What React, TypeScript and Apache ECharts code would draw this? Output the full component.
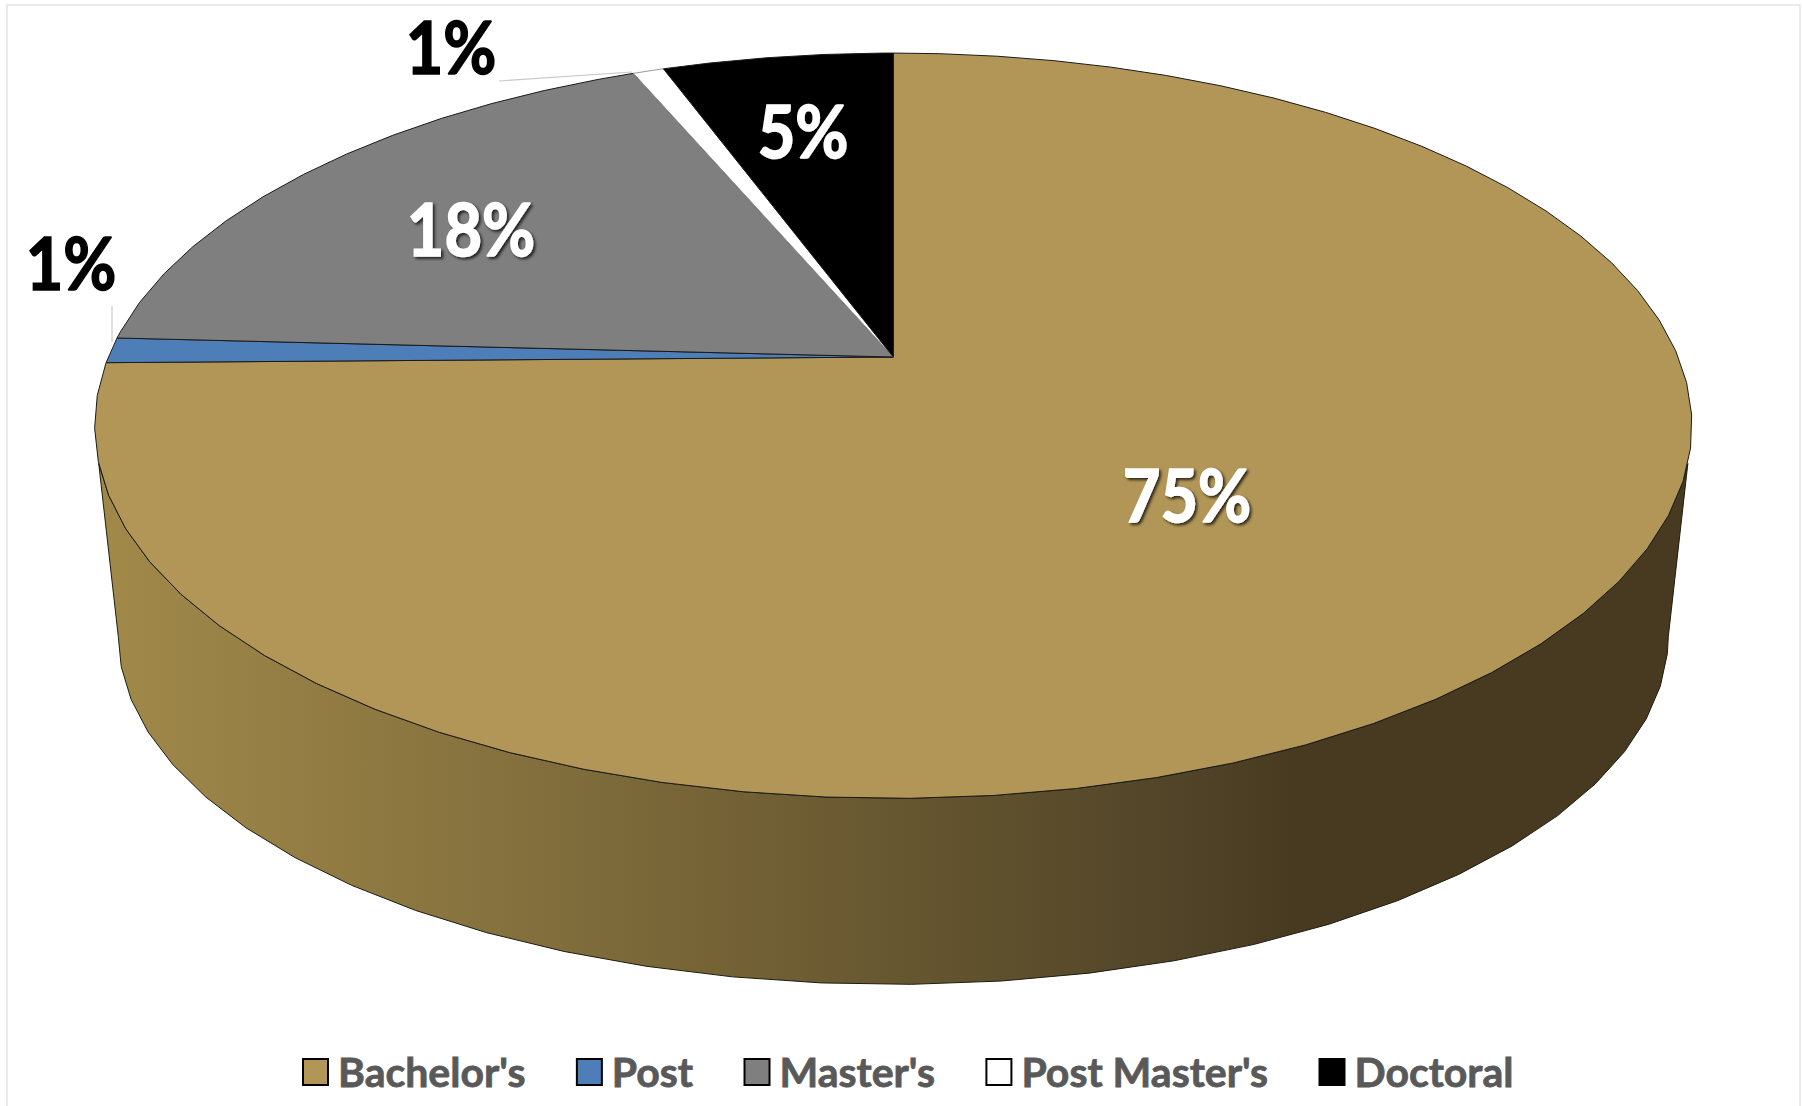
import React, { useEffect, useRef } from "react";
import * as echarts from "echarts";

const CATEGORIES = ["Bachelor's", "Post", "Master's", "Post Master's", "Doctoral"];
const VALUES = [74.75, 1.1, 17.82, 0.75, 5.58];
const PERCENT_LABELS = ["75%", "1%", "18%", "1%", "5%"];
const COLORS = ["#B19657", "#4D7EB8", "#7F7F7F", "#FFFFFF", "#000000"];

// Perspective model of the pie's top rim and bottom rim
const TOP = { cx: 893.3, y0: 357, A: 785, B: 360, k: 0.1844 };
const BOTTOM = { cx: 893.3, y0: 539, A: 744, B: 320.7, k: 0.28 };
const WALL_FROM = 106.3;
const WALL_TO = 253.7;
const FACET = 5;
const FACET_PHASE = 1;

// Label layout
const LABEL_POS = [
  [1187, 494],
  [71, 262],
  [471, 228],
  [451, 46],
  [803, 130],
];
const LABEL_FILL = ["#fff", "#000", "#fff", "#000", "#fff"];
const LABEL_SHADOW = [true, false, true, false, true];
const LEADERS: (number[] | null)[] = [null, [112, 306, 112, 342], null, [499, 81, 632, 72], null];

const pt = (deg: number, m: typeof TOP) => {
  const a = (deg * Math.PI) / 180;
  const d = 1 + m.k * Math.cos(a);
  return [m.cx + (m.A * Math.sin(a)) / d, m.y0 - (m.B * Math.cos(a)) / d];
};

const arc = (from: number, to: number, m: typeof TOP) => {
  const out = [pt(from, m)];
  const first = Math.ceil((from + FACET_PHASE) / FACET + 1e-6) * FACET - FACET_PHASE;
  for (let d = first; d < to; d += FACET) out.push(pt(d, m));
  out.push(pt(to, m));
  return out;
};

const starts = VALUES.map((_, i) => VALUES.slice(0, i).reduce((s, v) => s + v, 0));
const total = VALUES.reduce((s, v) => s + v, 0);

const wallFill = () =>
  new echarts.graphic.LinearGradient(
    118,
    0,
    1670,
    0,
    [
      { offset: 0, color: "#A08849" },
      { offset: 0.25, color: "#85713E" },
      { offset: 0.5, color: "#675730" },
      { offset: 0.7, color: "#4F4227" },
      { offset: 0.76, color: "#483A20" },
      { offset: 1, color: "#483A20" },
    ],
    true
  );

const renderSlice = (params: any, api: any) => {
  const i = params.seriesIndex;
  const value = api.value(0);
  const a0 = (starts[i] / total) * 360;
  const a1 = ((starts[i] + value) / total) * 360;
  const children: any[] = [];
  const wa = Math.max(a0, WALL_FROM);
  const wb = Math.min(a1, WALL_TO);
  if (wb > wa) {
    children.push({
      type: "polygon",
      shape: { points: [...arc(wa, wb, TOP), ...arc(wa, wb, BOTTOM).reverse()] },
      style: { fill: wallFill(), stroke: "#1c1c10", lineWidth: 1 },
      silent: true,
    });
  }
  children.push({
    type: "polygon",
    shape: { points: [[TOP.cx, TOP.y0], ...arc(a0, a1, TOP)] },
    style: { fill: COLORS[i], stroke: i === 3 ? "#9a9a9a" : "#1a1a1a", lineWidth: 1 },
    silent: true,
  });
  const lead = LEADERS[i];
  if (lead) {
    children.push({
      type: "line",
      shape: { x1: lead[0], y1: lead[1], x2: lead[2], y2: lead[3] },
      style: { stroke: "#c8c8c8", lineWidth: 1.2 },
      silent: true,
    });
  }
  return { type: "group", children };
};

const renderLabel = (params: any) => {
  const i = params.seriesIndex - CATEGORIES.length;
  const shadow = LABEL_SHADOW[i];
  return {
    type: "text",
    x: LABEL_POS[i][0],
    y: LABEL_POS[i][1],
    scaleX: 0.9,
    silent: true,
    style: {
      text: PERCENT_LABELS[i],
      x: 0,
      y: 0,
      align: "center",
      verticalAlign: "middle",
      fill: LABEL_FILL[i],
      stroke: LABEL_FILL[i],
      lineWidth: 1.6,
      font: 'bold 72px Lato, "Open Sans", sans-serif',
      textShadowColor: shadow ? "rgba(0,0,0,0.75)" : "transparent",
      textShadowBlur: shadow ? 3 : 0,
      textShadowOffsetX: shadow ? 2 : 0,
      textShadowOffsetY: shadow ? 2 : 0,
    },
  };
};

export default function App() {
  const ref = useRef<HTMLDivElement>(null);
  useEffect(() => {
    const chart = echarts.init(ref.current!, null, { renderer: "svg" });
    chart.setOption({
      animation: false,
      backgroundColor: "#ffffff",
      graphic: [
        {
          type: "rect",
          shape: { x: 7, y: 5, width: 1793, height: 1120 },
          style: { fill: "transparent", stroke: "#e4e4e4", lineWidth: 1.5 },
          silent: true,
        },
      ],
      legend: {
        left: 302,
        top: 1051,
        padding: 0,
        icon: "rect",
        itemWidth: 25,
        itemHeight: 26,
        itemGap: 50,
        data: CATEGORIES,
        selectedMode: false,
        itemStyle: { borderColor: "#000", borderWidth: 2 },
        textStyle: {
          color: "#595959",
          fontFamily: 'Lato, "Open Sans", sans-serif',
          fontWeight: "bold",
          fontSize: 41,
          textBorderColor: "#595959",
          textBorderWidth: 0.8,
          padding: [0, 0, 0, 5],
        },
      },
      series: [
        ...CATEGORIES.map((name, i) => ({
          type: "custom",
          name,
          coordinateSystem: "none",
          itemStyle: { color: COLORS[i] },
          data: [VALUES[i]],
          renderItem: renderSlice,
          z: 2,
        })),
        ...CATEGORIES.map((name, i) => ({
          type: "custom",
          name: `${name} label`,
          coordinateSystem: "none",
          data: [VALUES[i]],
          renderItem: renderLabel,
          z: 3,
        })),
      ],
    });
    return () => chart.dispose();
  }, []);
  return (
    <div
      ref={ref}
      style={{ position: "fixed", left: 0, top: 0, width: 1802, height: 1106 }}
    />
  );
}
